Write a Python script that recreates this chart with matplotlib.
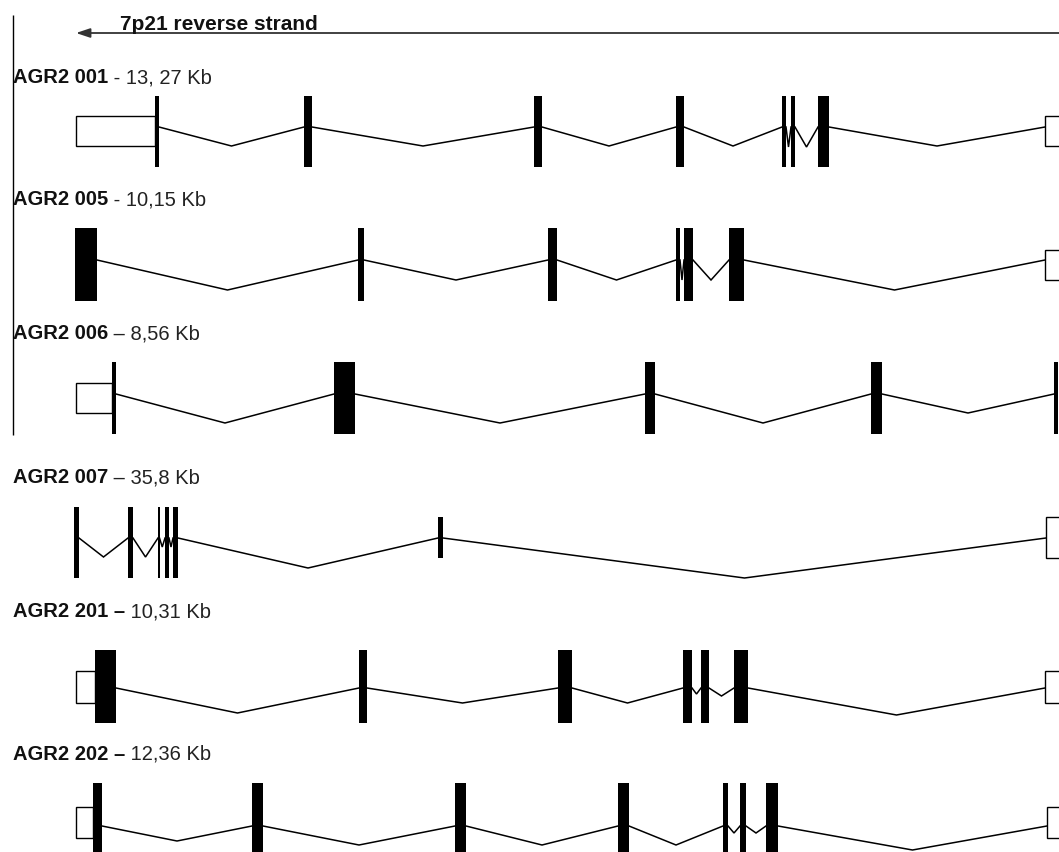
import matplotlib
matplotlib.use('Agg')
import matplotlib.pyplot as plt
from matplotlib.patches import Rectangle

plt.rcParams['font.family'] = ['Liberation Sans', 'DejaVu Sans']

# transcript labels (bold part + regular part)
names = ['AGR2 001', 'AGR2 005', 'AGR2 006', 'AGR2 007', 'AGR2 201 \u2013', 'AGR2 202 \u2013']
sizes = [' - 13, 27 Kb', ' - 10,15 Kb', ' \u2013 8,56 Kb', ' \u2013 35,8 Kb', ' 10,31 Kb', ' 12,36 Kb']

# coding exons (start, end) and UTR boxes, in map units along the strand
t001_exons = [(155, 159), (304, 312), (534, 542), (676, 684), (782, 786), (791, 795), (818, 829)]
t001_utr = [(76, 155), (1045, 1075)]
t001_depth = [19, 19, 19, 19, 20, 20, 19]

t005_exons = [(75, 97), (358, 364), (548, 557), (676, 680), (684, 693), (729, 744)]
t005_utr = [(1045, 1075)]
t005_depth = [30, 20, 20, 20, 20, 30]

t006_exons = [(112, 116), (334, 355), (645, 655), (871, 882), (1054, 1058)]
t006_utr = [(76, 112)]
t006_depth = [29, 29, 29, 19]

t007_exons = [(74, 79), (128, 133), (158, 159.5), (165, 169), (173, 178), (438, 443)]
t007_utr = [(1046, 1075)]
t007_depth = [19, 19, 9, 9, 30, 40]
t007_short = [5]  # exon drawn at reduced height

t201_exons = [(95, 116), (359, 367), (558, 572), (683, 692), (701, 709), (734, 748)]
t201_utr = [(76, 95), (1045, 1075)]
t201_depth = [25, 15, 15, 6, 8, 27]

t202_exons = [(93, 102), (252, 263), (455, 466), (618, 629), (723, 728), (740, 746), (766, 778)]
t202_utr = [(76, 93), (1047, 1075)]
t202_depth = [15, 19, 19, 19, 7, 7, 24]

tracks = [
    (t001_exons, t001_utr, t001_depth, []),
    (t005_exons, t005_utr, t005_depth, []),
    (t006_exons, t006_utr, t006_depth, []),
    (t007_exons, t007_utr, t007_depth, t007_short),
    (t201_exons, t201_utr, t201_depth, []),
    (t202_exons, t202_utr, t202_depth, []),
]

# vertical layout of each track (pixels from top)
line_y = [127, 260, 394, 538, 688, 826]
exon_y = [(96, 167), (228, 301), (362, 434), (507, 578), (650, 723), (783, 856)]
box_y = [(116, 146), (250, 280), (383, 413), (517, 558), (671, 703), (807, 838)]
label_y = [83, 205, 339, 483, 617, 760]  # text baselines

fig = plt.figure(figsize=(10.59, 8.52), dpi=100)
ax = fig.add_axes([0, 0, 1, 1])
ax.set_xlim(0, 1059)
ax.set_ylim(852, 0)
ax.axis('off')

txt_col = '#111111'
fs = 14.5

# strand arrow + title
ax.annotate('', xy=(76, 33), xytext=(1070, 33),
            arrowprops=dict(arrowstyle='-|>,head_length=0.6,head_width=0.2',
                            lw=1.3, color='#333333', mutation_scale=14,
                            shrinkA=0, shrinkB=0))
ax.text(120, 30, '7p21 reverse strand', fontsize=15, fontweight='bold',
        color=txt_col, va='baseline', ha='left')

# left bracket line
ax.plot([13, 13], [15, 435], color='black', lw=1.0, solid_capstyle='butt')

for i, (exons, utr, depth, short) in enumerate(tracks):
    ly = line_y[i]
    # label: bold name, then the length right after it on the same baseline
    t = ax.text(13, label_y[i], names[i], fontsize=fs, fontweight='bold',
                color=txt_col, va='baseline', ha='left')
    ax.annotate(sizes[i], xy=(1, 0), xycoords=t, xytext=(0, 0),
                textcoords='offset points', fontsize=fs,
                color='#222222', va='bottom', ha='left')

    # introns between consecutive blocks
    blocks = sorted([(a, b) for a, b in exons] + [(a, b) for a, b in utr])
    k = 0
    for (a0, a1), (b0, b1) in zip(blocks[:-1], blocks[1:]):
        if b0 - a1 <= 0:
            continue
        mid = (a1 + b0) / 2
        ax.plot([a1, mid, b0], [ly, ly + depth[k], ly], color='black',
                lw=1.1, solid_joinstyle='miter')
        k += 1

    # UTR boxes
    by0, by1 = box_y[i]
    for a, b in utr:
        ax.add_patch(Rectangle((a, by0), b - a, by1 - by0, facecolor='white',
                               edgecolor='black', lw=1.0, zorder=3))
    # coding exons
    for j, (a, b) in enumerate(exons):
        y0, y1 = (box_y[i] if j in short else exon_y[i])
        ax.add_patch(Rectangle((a, y0), b - a, y1 - y0, facecolor='black',
                               edgecolor='none', zorder=4))

fig.savefig('out.png', dpi=100, facecolor='white')
